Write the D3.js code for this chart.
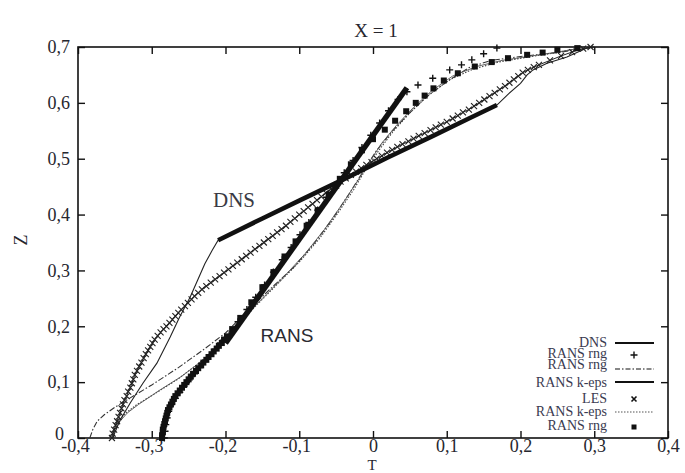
<!DOCTYPE html>
<html>
<head>
<meta charset="utf-8">
<script src="https://cdn.jsdelivr.net/npm/d3@7"></script>
<style>
  html, body { margin: 0; padding: 0; background: #fff; }
  svg { display: block; }
  text { font-family: "Liberation Serif", "Times New Roman", serif; }
</style>
</head>
<body>
<svg id="chart" width="685" height="473"></svg>
<script>
// ---------------- data (T, Z) ----------------
const xTicks = [-0.4, -0.3, -0.2, -0.1, 0, 0.1, 0.2, 0.3, 0.4];
const xTickLabels = ["-0,4", "-0,3", "-0,2", "-0,1", "0", "0,1", "0,2", "0,3", "0,4"];
const yTicks = [0, 0.1, 0.2, 0.3, 0.4, 0.5, 0.6, 0.7];
const yTickLabels = ["0", "0,1", "0,2", "0,3", "0,4", "0,5", "0,6", "0,7"];

const titleText = "X = 1";
const xLabel = "T";
const yLabel = "Z";

const legendLabels = ["DNS", "RANS rng", "RANS rng", "RANS k-eps", "LES", "RANS k-eps", "RANS rng"];

// DNS profile (thin solid); thick part marks the linear region
const dns = [
  [-0.353,0.000],[-0.343,0.032],[-0.329,0.063],[-0.312,0.098],[-0.293,0.134],[-0.275,0.181],
  [-0.262,0.217],[-0.248,0.252],[-0.238,0.282],[-0.228,0.312],[-0.218,0.336],[-0.210,0.354],
  [-0.150,0.393],[-0.100,0.425],[-0.040,0.463],[0.020,0.502],[0.080,0.540],[0.130,0.572],
  [0.168,0.596],[0.182,0.614],[0.200,0.635],[0.209,0.650],[0.217,0.659],[0.236,0.671],
  [0.263,0.682],[0.290,0.698],[0.300,0.700]
];
const dnsFitRange = [-0.21, 0.168];

// RANS linear fit (thick line)
const ransFit = [[-0.200,0.170],[0.046,0.627]];

// RANS rng (+ markers)
const ransRngPlus = [
  [-0.283,0.000],[-0.282,0.012],[-0.281,0.024],[-0.279,0.036],[-0.277,0.048],[-0.273,0.060],
  [-0.268,0.071],[-0.262,0.082],[-0.256,0.093],[-0.249,0.104],[-0.242,0.115],[-0.235,0.126],
  [-0.228,0.137],[-0.221,0.148],[-0.214,0.159],[-0.207,0.170],[-0.200,0.180],
  [-0.195,0.185],[-0.183,0.208],[-0.171,0.230],[-0.159,0.252],[-0.147,0.274],[-0.135,0.297],
  [-0.123,0.319],[-0.111,0.341],[-0.099,0.364],[-0.087,0.386],[-0.075,0.408],[-0.063,0.431],
  [-0.051,0.453],[-0.039,0.475],[-0.027,0.497],[-0.015,0.520],[-0.003,0.542],[0.009,0.564],
  [0.021,0.586],[0.034,0.606],[0.046,0.620],[0.061,0.632],[0.081,0.644],[0.104,0.659],
  [0.120,0.668],[0.134,0.677],[0.150,0.688],[0.168,0.698]
];

// RANS rng (dash-dot line)
const ransRngLine = [
  [-0.384,0.000],[-0.380,0.015],[-0.374,0.030],[-0.364,0.042],[-0.350,0.055],[-0.334,0.068],
  [-0.300,0.095],[-0.265,0.125],[-0.230,0.158],[-0.200,0.188],[-0.170,0.228],[-0.140,0.266],
  [-0.108,0.305],[-0.080,0.348],[-0.055,0.392],[-0.031,0.440],[-0.012,0.480],[0.005,0.515],
  [0.025,0.548],[0.048,0.580],[0.072,0.610],[0.100,0.638],[0.130,0.663],[0.160,0.676],
  [0.200,0.683],[0.250,0.690],[0.300,0.700]
];

// RANS k-eps (solid thin line)
const ransKepsLine = [
  [-0.355,0.000],[-0.350,0.015],[-0.343,0.030],[-0.333,0.045],[-0.318,0.060],[-0.290,0.085],
  [-0.260,0.110],[-0.230,0.140],[-0.205,0.172],[-0.180,0.208],[-0.150,0.250],[-0.120,0.290],
  [-0.092,0.330],[-0.066,0.373],[-0.042,0.418],[-0.020,0.462],[-0.003,0.498],[0.012,0.528],
  [0.032,0.560],[0.055,0.592],[0.080,0.622],[0.108,0.648],[0.140,0.665],[0.175,0.676],
  [0.215,0.684],[0.255,0.692],[0.290,0.700]
];

// LES (x markers)
const les = [
  [-0.354,0.000],[-0.353,0.008],[-0.351,0.015],[-0.349,0.023],[-0.347,0.030],[-0.345,0.038],
  [-0.343,0.045],[-0.341,0.053],[-0.339,0.060],[-0.337,0.068],[-0.334,0.075],[-0.332,0.083],
  [-0.329,0.090],[-0.327,0.098],[-0.325,0.105],[-0.323,0.113],[-0.320,0.120],[-0.317,0.128],
  [-0.314,0.135],[-0.311,0.143],[-0.308,0.150],[-0.305,0.157],[-0.302,0.163],[-0.299,0.170],
  [-0.296,0.176],[-0.292,0.183],[-0.288,0.189],[-0.284,0.195],[-0.280,0.200],[-0.276,0.206],
  [-0.272,0.212],[-0.268,0.218],[-0.264,0.224],[-0.260,0.230],[-0.255,0.236],[-0.251,0.242],
  [-0.246,0.248],[-0.242,0.254],[-0.237,0.260],[-0.232,0.266],[-0.226,0.272],[-0.220,0.278],
  [-0.214,0.284],[-0.208,0.290],[-0.202,0.296],[-0.196,0.302],[-0.190,0.308],[-0.184,0.314],
  [-0.178,0.320],[-0.172,0.326],[-0.166,0.332],[-0.160,0.338],[-0.154,0.344],[-0.148,0.350],
  [-0.142,0.356],[-0.136,0.362],[-0.130,0.368],[-0.124,0.374],[-0.118,0.380],[-0.112,0.387],
  [-0.106,0.393],[-0.100,0.400],[-0.094,0.406],[-0.088,0.413],[-0.082,0.419],[-0.076,0.426],
  [-0.070,0.432],[-0.064,0.439],[-0.057,0.446],[-0.050,0.452],[-0.044,0.459],[-0.037,0.465],
  [-0.030,0.471],[-0.023,0.477],[-0.016,0.483],[-0.009,0.489],[-0.002,0.494],[0.005,0.500],
  [0.012,0.505],[0.019,0.511],[0.026,0.516],[0.033,0.521],[0.040,0.526],[0.048,0.531],
  [0.055,0.536],[0.062,0.541],[0.070,0.546],[0.078,0.551],[0.085,0.556],[0.092,0.561],
  [0.100,0.566],[0.108,0.572],[0.115,0.577],[0.122,0.583],[0.130,0.588],[0.137,0.594],
  [0.144,0.600],[0.151,0.606],[0.158,0.612],[0.165,0.618],[0.172,0.624],[0.179,0.630],
  [0.185,0.636],[0.191,0.642],[0.197,0.648],[0.203,0.654],[0.210,0.659],[0.218,0.664],
  [0.225,0.668],[0.240,0.676],[0.255,0.684],[0.270,0.691],[0.285,0.697],[0.295,0.700]
];

// RANS k-eps (dotted line)
const ransKepsDotted = [
  [-0.357,0.000],[-0.352,0.015],[-0.345,0.030],[-0.335,0.045],[-0.320,0.060],[-0.295,0.080],
  [-0.265,0.105],[-0.235,0.135],[-0.210,0.165],[-0.188,0.195],[-0.160,0.235],[-0.130,0.275],
  [-0.100,0.315],[-0.072,0.358],[-0.048,0.402],[-0.026,0.445],[-0.008,0.485],[0.008,0.515],
  [0.028,0.550],[0.052,0.585],[0.078,0.617],[0.105,0.642],[0.135,0.660],[0.170,0.673],
  [0.210,0.682],[0.250,0.690],[0.285,0.700]
];

// RANS rng (square markers)
const ransRngSquares = [
  [-0.286,0.000],[-0.286,0.005],[-0.285,0.010],[-0.285,0.015],[-0.284,0.020],[-0.283,0.025],
  [-0.282,0.030],[-0.281,0.035],[-0.280,0.040],[-0.279,0.045],[-0.278,0.050],[-0.276,0.055],
  [-0.274,0.060],[-0.272,0.065],[-0.270,0.070],[-0.268,0.075],[-0.265,0.080],[-0.262,0.085],
  [-0.259,0.090],[-0.256,0.095],[-0.253,0.100],[-0.250,0.105],[-0.247,0.110],[-0.244,0.115],
  [-0.240,0.120],[-0.237,0.125],[-0.233,0.130],[-0.230,0.135],[-0.226,0.140],[-0.223,0.145],
  [-0.219,0.150],[-0.216,0.155],[-0.212,0.160],[-0.209,0.165],[-0.205,0.170],[-0.202,0.176],
  [-0.198,0.182],[-0.191,0.195],[-0.180,0.215],[-0.165,0.243],[-0.150,0.270],[-0.135,0.297],
  [-0.120,0.325],[-0.105,0.352],[-0.090,0.380],[-0.075,0.408],[-0.060,0.436],[-0.045,0.464],
  [-0.030,0.490],[-0.015,0.515],[0.000,0.535],[0.016,0.552],[0.030,0.568],[0.045,0.585],
  [0.058,0.600],[0.070,0.613],[0.082,0.626],[0.096,0.640],[0.115,0.653],[0.138,0.665],
  [0.161,0.673],[0.183,0.680],[0.209,0.686],[0.230,0.690],[0.250,0.695],[0.277,0.698]
];

// ---------------- drawing ----------------
const svg = d3.select("#chart");
const L = 78, R = 668, TOP = 47, B = 438;
const x = d3.scaleLinear().domain([-0.4, 0.4]).range([L, R]);
const y = d3.scaleLinear().domain([0, 0.7]).range([B, TOP]);
const line = d3.line().x(d => x(d[0])).y(d => y(d[1]));
const labelColor = "#26262e";

// axes (inward ticks on all sides)
const fmtX = (d) => xTickLabels[xTicks.findIndex(t => Math.abs(t - d) < 1e-9)];
const fmtY = (d) => yTickLabels[yTicks.findIndex(t => Math.abs(t - d) < 1e-9)];

const gB = svg.append("g").attr("transform", `translate(0,${B})`)
  .call(d3.axisBottom(x).tickValues(xTicks).tickFormat(fmtX).tickSizeInner(-7).tickSizeOuter(0).tickPadding(3));
const gT = svg.append("g").attr("transform", `translate(0,${TOP})`)
  .call(d3.axisTop(x).tickValues(xTicks).tickFormat("").tickSizeInner(-7).tickSizeOuter(0));
const gL = svg.append("g").attr("transform", `translate(${L},0)`)
  .call(d3.axisLeft(y).tickValues(yTicks).tickFormat(fmtY).tickSizeInner(-7).tickSizeOuter(0).tickPadding(8));
const gR = svg.append("g").attr("transform", `translate(${R},0)`)
  .call(d3.axisRight(y).tickValues(yTicks).tickFormat("").tickSizeInner(-7).tickSizeOuter(0));

[gB, gT, gL, gR].forEach(g => {
  g.select(".domain").remove();
  g.selectAll(".tick line").attr("stroke", "#111").attr("stroke-width", 1.4);
  g.selectAll("text").attr("fill", labelColor).style("font-size", "18px")
    .style("font-family", '"Liberation Serif", serif');
});
gB.selectAll(".tick text").attr("dx", d => d < 0 ? -3 : 0).attr("dy", "0.6em");
gL.selectAll(".tick text").filter(d => d === 0).attr("dy", "0.1em").attr("dx", -6);

// frame
svg.append("rect").attr("x", L).attr("y", TOP).attr("width", R - L).attr("height", B - TOP)
  .attr("fill", "none").attr("stroke", "#111").attr("stroke-width", 1.6);

const plot = svg.append("g");

// thin lines
plot.append("path").datum(ransKepsDotted).attr("d", line).attr("fill", "none")
  .attr("stroke", "#444").attr("stroke-width", 1.1).attr("stroke-dasharray", "1.5,1.5");
plot.append("path").datum(ransRngLine).attr("d", line).attr("fill", "none")
  .attr("stroke", "#333").attr("stroke-width", 1.1).attr("stroke-dasharray", "6,2,1.5,2");
plot.append("path").datum(ransKepsLine).attr("d", line).attr("fill", "none")
  .attr("stroke", "#555").attr("stroke-width", 0.9);
plot.append("path").datum(dns).attr("d", line).attr("fill", "none")
  .attr("stroke", "#222").attr("stroke-width", 1.1);
plot.append("path").datum(les).attr("d", line).attr("fill", "none")
  .attr("stroke", "#222").attr("stroke-width", 1);

// markers
const cross = "M-3,-3L3,3M-3,3L3,-3";
const plus = "M-3.5,0H3.5M0,-3.5V3.5";
plot.append("g").selectAll("path").data(les).join("path")
  .attr("transform", d => `translate(${x(d[0])},${y(d[1])})`)
  .attr("d", cross).attr("stroke", "#222").attr("stroke-width", 1.1).attr("fill", "none");
plot.append("g").selectAll("path").data(ransRngPlus).join("path")
  .attr("transform", d => `translate(${x(d[0])},${y(d[1])})`)
  .attr("d", plus).attr("stroke", "#111").attr("stroke-width", 1.4).attr("fill", "none");
plot.append("g").selectAll("rect").data(ransRngSquares).join("rect")
  .attr("x", d => x(d[0]) - 3).attr("y", d => y(d[1]) - 3)
  .attr("width", 6).attr("height", 6).attr("fill", "#111");

// thick lines
plot.append("path").datum(dns.filter(d => d[0] >= dnsFitRange[0] - 1e-9 && d[0] <= dnsFitRange[1] + 1e-9))
  .attr("d", line).attr("fill", "none").attr("stroke", "#111").attr("stroke-width", 4.5);
plot.append("path").datum(ransFit).attr("d", line).attr("fill", "none")
  .attr("stroke", "#111").attr("stroke-width", 5.5);

// annotations
svg.append("text").attr("x", 234).attr("y", 207).attr("text-anchor", "middle")
  .attr("fill", "#3a3a44").style("font-size", "21px").text("DNS");
svg.append("text").attr("x", 287).attr("y", 342).attr("text-anchor", "middle")
  .attr("fill", "#2a2a30").style("font-size", "19px")
  .style("font-family", '"Liberation Sans", Arial, sans-serif').text("RANS");

// titles
svg.append("text").attr("x", 376).attr("y", 37).attr("text-anchor", "middle")
  .attr("fill", labelColor).style("font-size", "19px").text(titleText);
svg.append("text").attr("x", 372).attr("y", 470).attr("text-anchor", "middle")
  .attr("fill", labelColor).style("font-size", "15px").text(xLabel);
svg.append("text").attr("transform", "translate(27,240) rotate(-90)").attr("text-anchor", "middle")
  .attr("fill", labelColor).style("font-size", "18px").text(yLabel);

// legend
const legY = [342, 353, 364, 382, 398, 411, 425];
const legTypes = ["solid", "plus", "dashdot", "solid", "cross", "dotted", "square"];
const leg = svg.append("g");
legendLabels.forEach((lab, i) => {
  leg.append("text").attr("x", 607).attr("y", legY[i]).attr("dy", "0.33em")
    .attr("text-anchor", "end").attr("fill", "#3a3a50").style("font-size", "14px").text(lab);
});
const sx0 = 615, sx1 = 654, smid = 634;
const sampleY = [343, 355, 369, 382, 399, 412, 427];
legTypes.forEach((t, i) => {
  const yy = sampleY[i];
  if (t === "solid" || t === "dashdot" || t === "dotted") {
    const p = leg.append("line").attr("x1", sx0).attr("x2", sx1).attr("y1", yy).attr("y2", yy)
      .attr("stroke", "#111").attr("stroke-width", t === "solid" ? 1.8 : 1.2);
    if (t === "dashdot") p.attr("stroke-dasharray", "5,2,1.5,2");
    if (t === "dotted") p.attr("stroke-dasharray", "1.5,1.5").attr("stroke", "#555");
  } else if (t === "plus") {
    leg.append("path").attr("transform", `translate(${smid},${yy})`).attr("d", plus)
      .attr("stroke", "#111").attr("stroke-width", 1.4);
  } else if (t === "cross") {
    leg.append("path").attr("transform", `translate(${smid},${yy})`).attr("d", "M-2.5,-2.5L2.5,2.5M-2.5,2.5L2.5,-2.5")
      .attr("stroke", "#111").attr("stroke-width", 1.6);
  } else if (t === "square") {
    leg.append("rect").attr("x", smid - 2.5).attr("y", yy - 2.5).attr("width", 5).attr("height", 5).attr("fill", "#111");
  }
});
</script>
</body>
</html>
